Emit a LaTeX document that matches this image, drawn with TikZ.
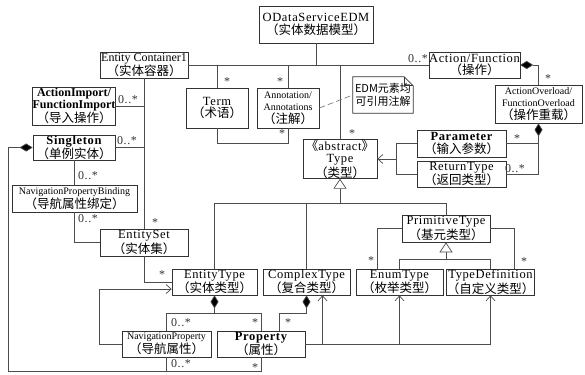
\documentclass[tikz,border=0pt]{standalone}
\usepackage{fontspec}
\setmainfont{Liberation Serif}[LetterSpace=5]
\newfontfamily\smallserif{Liberation Serif}
\newfontfamily\cjk{Noto Sans CJK SC}
\usetikzlibrary{arrows.meta}
\newcommand\zh[1]{{\cjk #1}}
\newcommand\smf{\smallserif\fontsize{10}{12}\selectfont}
\newcommand\nls{\smallserif\fontsize{12}{12.6}\selectfont}
\tikzset{
  box/.style={draw=black!80, line width=0.7pt, fill=white, inner sep=0pt, align=center,
              font=\fontsize{12.5}{12.6}\selectfont},
  lbl/.style={font=\fontsize{12}{12}\selectfont, inner sep=0pt, text=black!80},
  conn/.style={draw=black!70, line width=0.7pt},
  comp/.style={conn, {Diamond[length=13pt,width=8pt,fill=black]}-},
  gen/.style={conn, {Triangle[open,length=10pt,width=13pt,fill=white]}-},
  nav/.style={conn, -{Straight Barb[length=5pt,width=9pt]}},
}
\newcommand\bx[6]{\node[box, minimum width=#4pt, minimum height=#5pt] (#1) at (#2,#3) {#6};}
\begin{document}
\begin{tikzpicture}[x=1pt,y=-1pt]
\useasboundingbox[fill=white] (0,0) rectangle (585,374);
% boxes
\bx{odata}{316}{24.5}{114}{37}{ODataServiceEDM\\\zh{（实体数据模型）}}
\bx{ec}{144}{65}{88}{26}{\nls Entity Container1\\\zh{（实体容器）}}
\bx{af}{474.5}{65}{87}{26}{Action/Function\\\zh{（操作）}}
\bx{ai}{74}{106}{82}{38}{\nls\bfseries ActionImport/\\\nls\bfseries FunctionImport\\\zh{（导入操作）}}
\bx{term}{217}{108}{62}{40}{Term\\\zh{（术语）}}
\bx{ann}{288}{108}{62}{40}{\smf Annotation/\\\smf Annotations\\\zh{（注解）}}
\bx{ao}{538.5}{104}{87}{38}{\smf ActionOverload/\\\smf FunctionOverload\\\zh{（操作重载）}}
\bx{single}{74}{147.5}{82}{25}{\bfseries Singleton\\\zh{（单例实体）}}
\bx{type}{340}{159}{74}{38}{\zh{《}abstract\zh{》}\\Type\\\zh{（类型）}}
\bx{param}{461.5}{143.5}{89}{27}{\bfseries Parameter\\\zh{（输入参数）}}
\bx{ret}{461.5}{174}{89}{26}{ReturnType\\\zh{（返回类型）}}
\bx{npb}{74.5}{198.5}{125}{27}{\smf NavigationPropertyBinding\\\zh{（导航属性绑定）}}
\bx{prim}{446}{228.5}{88}{27}{PrimitiveType\\\zh{（基元类型）}}
\bx{es}{144}{242.5}{88}{27}{EntitySet\\\zh{（实体集）}}
\bx{et}{214.5}{282}{85}{26}{EntityType\\\zh{（实体类型）}}
\bx{ct}{306.5}{282}{87}{26}{ComplexType\\\zh{（复合类型）}}
\bx{enum}{399.5}{282}{87}{26}{EnumType\\\zh{（枚举类型）}}
\bx{td}{490.5}{282}{87}{26}{TypeDefinition\\\zh{（自定义类型）}}
\bx{navp}{166.5}{344}{89}{26}{\smf NavigationProperty\\\zh{（导航属性）}}
\bx{prop}{261}{344}{88}{26}{\bfseries Property\\\zh{（属性）}}
% note
\node[inner sep=0pt, minimum width=60pt, minimum height=36pt, align=center,
      font=\fontsize{11}{13}\selectfont\cjk] (note) at (383,95) {EDM元素均\\可引用注解};
\draw[draw=black!80, line width=0.7pt] (note.north west) -- ([xshift=-9pt]note.north east)
  -- ([yshift=-9pt]note.north east) -- (note.south east) -- (note.south west) -- cycle;
\draw[draw=black!80, line width=0.6pt] ([xshift=-9pt]note.north east) |- ([yshift=-9pt]note.north east);
% top bus
\draw[conn] (ec.east) -- (af.west);
\draw[conn] (odata.south) -- (odata.south |- ec.east);
\draw[conn] (term.north) -- (term.north |- ec.east);
\draw[conn] (ann.north) -- (ann.north |- ec.east);
\draw[conn] (type.north) -- (type.north |- ec.east);
\draw[conn] (term.south) -- ++(0,15) -| (ann.south);
\draw[conn, dashed, draw=black!50, dash pattern=on 6pt off 3pt] (ann.east) -- (note.west);
% entity container
\draw[conn] (ec.south) -- (es.north);
\draw[conn] (ai.east) -- (ai.east -| ec.south);
\draw[conn] (single.east) -- (single.east -| ec.south);
\draw[conn] (single.south) -- (single.south |- npb.north);
\draw[conn] (npb.south) |- (es.west);
\draw[conn] (es.south) |- (et.west);
\draw[nav] (navp.west) -- ++(-22,0) |- ([yshift=-7pt]et.west);
\coordinate (cornerL) at (8,371);
\draw[comp] (single.west) -| (cornerL) -| (prop.south);
\draw[conn] (navp.south) -- (navp.south |- cornerL);
% entity type composition
\draw[comp] (et.south) -- ++(0,18) coordinate (etj);
\draw[conn] (navp.north) |- (etj -| prop.north) -- (prop.north);
\draw[comp] (ct.south) -- ++(0,18) -| ([xshift=18pt]prop.north);
% property types
\draw[nav] (prop.east) -| ([xshift=16pt]ct.south);
\draw[nav] (prop.east) -| (enum.south);
\draw[nav] (prop.east) -| (td.south);
% generalization
\draw[gen] (type.south) -- ++(0,25) coordinate (tj);
\draw[conn] (et.north) |- (prim.north |- tj) -- (prim.north);
\draw[conn] (ct.north) -- (ct.north |- tj);
\draw[gen] (prim.south) -- ++(0,17) coordinate (pj);
\draw[conn] (enum.north) |- (pj) -| (td.north);
\draw[conn] (prim.west) -| ([xshift=-22pt]enum.north);
\draw[conn] (prim.east) -| ([xshift=24pt]td.north);
% action
\draw[comp] (af.east) -| (ao.north);
\draw[comp] (ao.south) |- (ret.east);
\draw[conn] (param.east) -- (param.east -| ao.south);
\draw[conn] (param.west) -- ++(-20,0) coordinate (pw) |- (ret.west);
\draw[nav] (pw |- type.east) -- (type.east);
% labels
\node[lbl] at (418,59) {0..*};
\node[lbl] at (128,100) {0..*};
\node[lbl] at (127,141) {0..*};
\node[lbl] at (88,176) {0..*};
\node[lbl] at (88,219) {0..*};
\node[lbl] at (181,323) {0..*};
\node[lbl] at (181,364) {0..*};
\node[lbl] at (515,169) {0..*};
\node[lbl] at (227,82) {*};
\node[lbl] at (280,82) {*};
\node[lbl] at (282,134) {*};
\node[lbl] at (352,134) {*};
\node[lbl] at (155,223) {*};
\node[lbl] at (162,275) {*};
\node[lbl] at (255,323) {*};
\node[lbl] at (288,323) {*};
\node[lbl] at (255,368) {*};
\node[lbl] at (371,261) {*};
\node[lbl] at (524,262) {*};
\node[lbl] at (548,79) {*};
\node[lbl] at (517,139) {*};
\end{tikzpicture}
\end{document}
